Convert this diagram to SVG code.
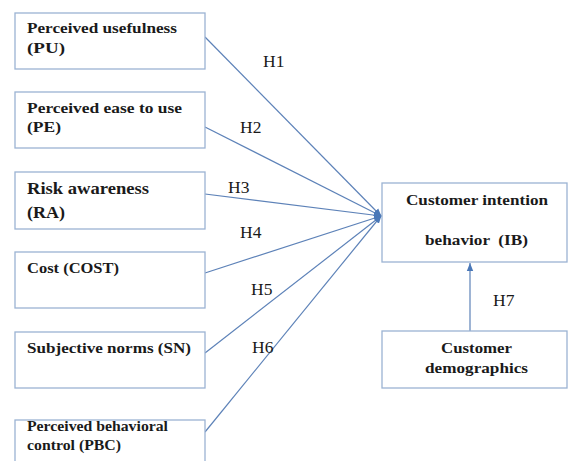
<svg xmlns="http://www.w3.org/2000/svg" width="570" height="461" viewBox="0 0 570 461">
<defs>
<style>
.box{fill:#ffffff;stroke:#9bb3d3;stroke-width:1.3}
.t{font-family:"Liberation Serif","Times New Roman",serif;font-weight:bold;font-size:15px;fill:#1a1a1a}
.tl{font-family:"Liberation Serif","Times New Roman",serif;font-weight:bold;font-size:17px;fill:#1a1a1a}
.h{font-family:"Liberation Serif","Times New Roman",serif;font-size:17.5px;fill:#1a1a1a}
.c{fill:none;stroke:#5d82b8;stroke-width:1.2}
</style>
<marker id="ah" viewBox="0 0 10 10" refX="9" refY="5" markerWidth="8" markerHeight="8" markerUnits="userSpaceOnUse" orient="auto">
<path d="M0,1 L10,5 L0,9 Z" fill="#4a78b8"/>
</marker>
<marker id="ah2" viewBox="0 0 10 10" refX="10" refY="5" markerWidth="9" markerHeight="8" markerUnits="userSpaceOnUse" orient="auto">
<path d="M0,1 L10,5 L0,9 Z" fill="#4a78b8"/>
</marker>
</defs>
<rect width="570" height="461" fill="#ffffff"/>
<g id="connectors">
<line class="c" x1="205" y1="37" x2="381" y2="216" marker-end="url(#ah)"/>
<line class="c" x1="205" y1="127" x2="381" y2="216" marker-end="url(#ah)"/>
<line class="c" x1="205" y1="194" x2="381" y2="216" marker-end="url(#ah)"/>
<line class="c" x1="205" y1="273" x2="381" y2="216" marker-end="url(#ah)"/>
<line class="c" x1="205" y1="353" x2="381" y2="216" marker-end="url(#ah)"/>
<line class="c" x1="205" y1="432" x2="381" y2="216" marker-end="url(#ah)"/>
<line class="c" x1="470" y1="331" x2="470" y2="263" marker-end="url(#ah2)"/>
<text class="h" x="263" y="67">H1</text>
<text class="h" x="240" y="133">H2</text>
<text class="h" x="228" y="193">H3</text>
<text class="h" x="240" y="238">H4</text>
<text class="h" x="251" y="295">H5</text>
<text class="h" x="252" y="353">H6</text>
<text class="h" x="493" y="306">H7</text>
</g>
<g id="PU">
<rect class="box" x="15" y="13" width="190" height="56"/>
<text class="t" x="27" y="33" textLength="150" lengthAdjust="spacingAndGlyphs">Perceived usefulness</text>
<text class="t" x="27" y="53" textLength="38" lengthAdjust="spacingAndGlyphs">(PU)</text>
</g>
<g id="PE">
<rect class="box" x="15" y="92" width="190" height="56"/>
<text class="t" x="27" y="113" textLength="155" lengthAdjust="spacingAndGlyphs">Perceived ease to use</text>
<text class="t" x="27" y="132" textLength="34" lengthAdjust="spacingAndGlyphs">(PE)</text>
</g>
<g id="RA">
<rect class="box" x="15" y="172" width="190" height="57"/>
<text class="tl" x="27" y="194" textLength="122" lengthAdjust="spacingAndGlyphs">Risk awareness</text>
<text class="tl" x="27" y="218" textLength="38" lengthAdjust="spacingAndGlyphs">(RA)</text>
</g>
<g id="COST">
<rect class="box" x="15" y="252" width="190" height="56"/>
<text class="t" x="27" y="273" textLength="92" lengthAdjust="spacingAndGlyphs">Cost (COST)</text>
</g>
<g id="SN">
<rect class="box" x="15" y="332" width="190" height="56"/>
<text class="t" x="27" y="353" textLength="164" lengthAdjust="spacingAndGlyphs">Subjective norms (SN)</text>
</g>
<g id="PBC">
<rect class="box" x="15" y="420" width="190" height="60"/>
<text class="t" x="27" y="431" textLength="141" lengthAdjust="spacingAndGlyphs">Perceived behavioral</text>
<text class="t" x="27" y="450" textLength="94" lengthAdjust="spacingAndGlyphs">control (PBC)</text>
</g>
<g id="IB">
<rect class="box" x="382" y="183" width="185" height="79"/>
<text class="t" x="406" y="205" textLength="142" lengthAdjust="spacingAndGlyphs">Customer intention</text>
<text class="t" x="425" y="245" textLength="103" lengthAdjust="spacingAndGlyphs" xml:space="preserve">behavior  (IB)</text>
</g>
<g id="CD">
<rect class="box" x="382" y="331" width="185" height="57"/>
<text class="t" x="441" y="353" textLength="71" lengthAdjust="spacingAndGlyphs">Customer</text>
<text class="t" x="425" y="373" textLength="103" lengthAdjust="spacingAndGlyphs">demographics</text>
</g>
</svg>
